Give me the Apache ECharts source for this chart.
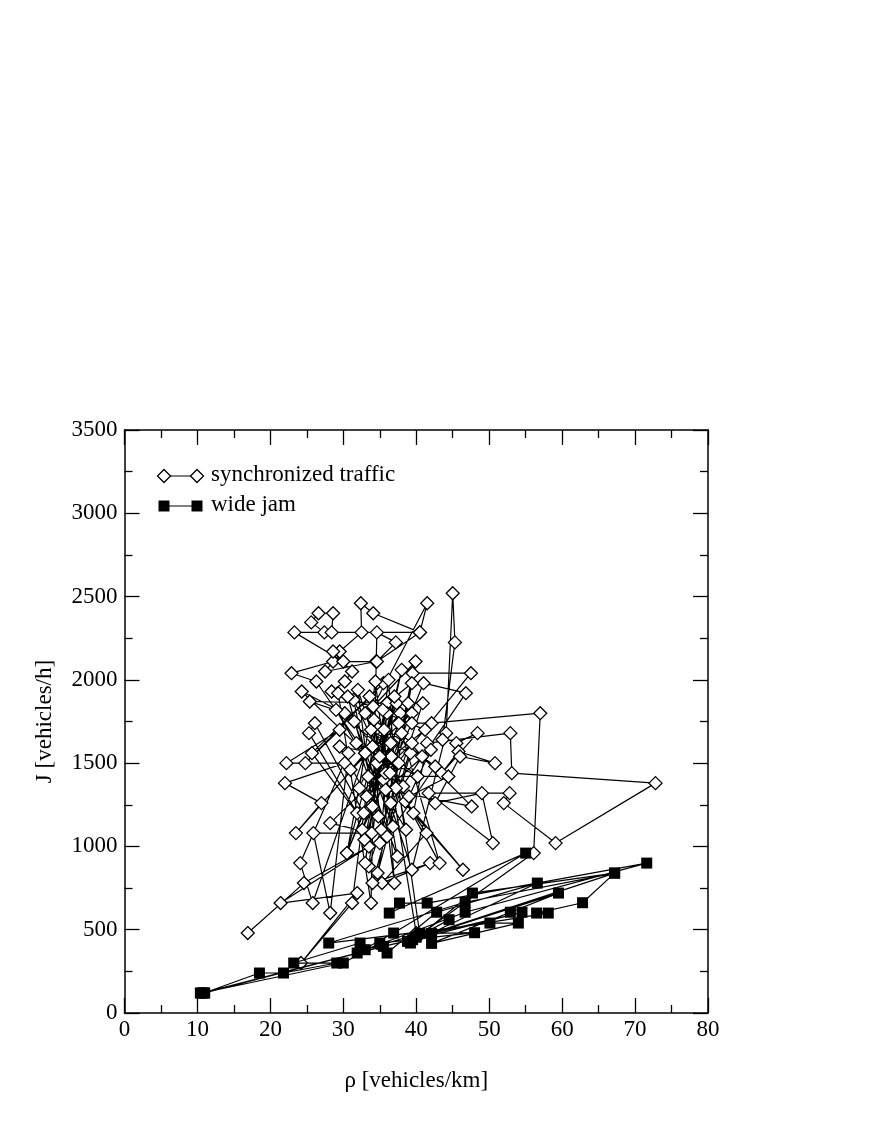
<!DOCTYPE html>
<html>
<head>
<meta charset="utf-8">
<script src="https://cdn.jsdelivr.net/npm/echarts@6/dist/echarts.min.js"></script>
<style>
html,body{margin:0;padding:0;background:#fff;}
#chart{width:879px;height:1138px;}
</style>
</head>
<body>
<div id="chart"></div>
<script>
// ---- data ----
const xTicks = [0,10,20,30,40,50,60,70,80];
const yTicks = [0,500,1000,1500,2000,2500,3000,3500];
const seriesNames = ["synchronized traffic","wide jam"];

const syncRho = [16.9,24.6,33.5,21.4,31.9,24.2,31.2,34.0,23.5,27.0,22.0,30.2,22.2,29.5,24.8,35.5,25.7,31.9,25.3,26.1,
32.8,30.5,36.0,25.4,30.2,24.3,33.0,26.3,22.9,28.6,27.5,34.5,30.0,23.3,27.4,25.6,26.6,28.6,28.4,40.5,34.1,
32.4,32.5,29.5,28.6,31.2,30.2,28.4,29.3,33.8,34.6,37.2,34.6,40.5,41.5,34.1,39.9,35.0,39.5,47.5,35.5,
41.0,46.8,36.5,39.4,36.0,37.3,33.2,38.9,40.9,33.5,36.0,37.8,31.0,39.4,37.6,32.6,39.4,42.1,57.0,56.1,
40.5,36.7,39.2,34.7,37.6,34.6,39.4,44.1,45.0,45.3,43.6,45.5,48.4,43.5,45.8,50.8,46.0,42.6,49.0,50.5,
41.7,52.8,52.0,59.1,72.8,53.1,52.9,41.5,39.6,46.4,38.5,41.4,35.3,41.9,34.0,39.4,28.2,33.9,25.9,28.2,
30.7,24.1,25.8,33.0,30.5,36.5,33.8,35.2,37.0,34.0,32.0,35.8,33.0,38.2,31.5,36.8,34.4,32.2,35.6,33.0,
36.2,37.2,31.4,34.8,29.5,36.6,32.9,38.0,35.0,33.6,37.4,31.8,40.2,29.0,38.6,35.4,37.0,34.2,42.6,36.0,
30.6,41.2,33.4,44.4,39.0,42.0,35.8,47.6,40.8,38.0,43.2,36.4,40.0];
const syncFlow = [480,780,1000,660,720,300,660,1600,1080,1260,1380,1500,1500,1700,1500,1980,1560,1200,1680,1740,
1200,960,1860,1870,1800,1930,1560,1990,2040,2110,2050,2110,2110,2285,2285,2345,2400,2400,2285,2285,2400,
2460,2285,2170,2170,2050,1990,1930,1920,660,2285,2225,2110,2285,2460,1840,2110,1020,2040,2040,1400,
1980,1920,1260,1980,1860,1860,1300,1860,1860,880,1800,1800,1460,1800,1740,1100,1740,1740,1800,960,
470,1620,1560,840,1500,1500,860,1680,2520,2225,1640,1620,1680,1440,1570,1500,1540,1260,1320,1020,
1320,1320,1260,1020,1380,1440,1680,1620,1200,860,1270,1080,780,900,780,1620,1140,1080,1080,600,
1560,900,660,1560,960,1620,1700,1100,1900,1240,1940,1440,1800,1360,1750,1120,1990,1350,1700,900,
2000,1350,1880,1180,1600,1540,1040,2060,1540,1900,940,1620,1420,1820,1100,1820,780,1760,1480,1060,
1900,1700,1420,1420,1300,1580,1340,1240,1540,1680,900,1440,480];

const jamRho = [10.4,10.9,18.5,21.8,29.1,23.2,32.3,36.0,42.8,56.6,39.2,47.7,67.2,42.1,48.0,35.0,30.0,10.6,31.9,36.9,
55.0,36.3,37.7,41.5,71.6,46.7,33.0,40.5,58.1,56.5,62.8,67.2,46.7,28.0,50.1,54.0,42.1,52.9,59.5,38.8,
54.5,40.0,44.5,39.5,35.5,11.0];
const jamFlow = [120,120,240,240,300,300,420,360,605,780,420,720,840,478,482,420,300,120,360,480,
960,600,660,660,900,605,380,478,600,600,662,840,665,420,540,540,418,605,720,430,
605,455,560,440,400,120];

const pairs = (xs, ys) => xs.map((x, i) => [x, ys[i]]);

const chart = echarts.init(document.getElementById('chart'), null, {renderer:'canvas'});
const FONT = 'Liberation Serif';
const FS = 23;
const axisCommon = {
  min: 0,
  axisLine: {show:true, onZero:false, lineStyle:{color:'#000', width:1.5}},
  axisTick: {show:true, inside:true, length:15, lineStyle:{color:'#000', width:1.3}},
  minorTick: {show:true, splitNumber:2, length:8, lineStyle:{color:'#000', width:1.3}},
  splitLine: {show:false},
  minorSplitLine: {show:false}
};

const option = {
  animation: false,
  backgroundColor: '#fff',
  grid: {left:124.5, right:171, top:430, bottom:125, containLabel:false},
  xAxis: [
    Object.assign({}, axisCommon, {
      type:'value', position:'bottom', max:80, interval:10,
      name:'ρ [vehicles/km]', nameLocation:'middle', nameGap:56,
      nameTextStyle:{fontFamily:FONT, fontSize:FS, color:'#000'},
      axisLabel:{show:true, margin:5, fontFamily:FONT, fontSize:FS, color:'#000',
        formatter: v => xTicks.includes(v) ? String(v) : ''}
    }),
    Object.assign({}, axisCommon, {
      type:'value', position:'top', max:80, interval:10,
      axisLabel:{show:false}
    })
  ],
  yAxis: [
    Object.assign({}, axisCommon, {
      type:'value', position:'left', max:3500, interval:500,
      name:'J [vehicles/h]', nameLocation:'middle', nameGap:68, nameRotate:90,
      nameTextStyle:{fontFamily:FONT, fontSize:FS, color:'#000'},
      axisLabel:{show:true, margin:7, fontFamily:FONT, fontSize:FS, color:'#000',
        formatter: v => yTicks.includes(v) ? String(v) : ''}
    }),
    Object.assign({}, axisCommon, {
      type:'value', position:'right', max:3500, interval:500,
      axisLabel:{show:false}
    })
  ],
  series: [
    {
      name: seriesNames[0], type:'line', xAxisIndex:0, yAxisIndex:0,
      data: pairs(syncRho, syncFlow),
      symbol:'diamond', symbolSize:13, showAllSymbol:true, clip:false,
      lineStyle:{color:'#000', width:1.2},
      itemStyle:{color:'#fff', borderColor:'#000', borderWidth:1.3},
      emphasis:{disabled:true}, z:2
    },
    {
      name: seriesNames[1], type:'line', xAxisIndex:0, yAxisIndex:0,
      data: pairs(jamRho, jamFlow),
      symbol:'rect', symbolSize:11, showAllSymbol:true, clip:false,
      lineStyle:{color:'#000', width:1.2},
      itemStyle:{color:'#000', borderColor:'#000', borderWidth:0},
      emphasis:{disabled:true}, z:3
    }
  ],
  graphic: [
    {type:'line', shape:{x1:164, y1:476, x2:197, y2:476}, style:{stroke:'#000', lineWidth:1.2}, z:10},
    {type:'polygon', shape:{points:[[164,469.5],[170.5,476],[164,482.5],[157.5,476]]}, style:{fill:'#fff', stroke:'#000', lineWidth:1.3}, z:11},
    {type:'polygon', shape:{points:[[197,469.5],[203.5,476],[197,482.5],[190.5,476]]}, style:{fill:'#fff', stroke:'#000', lineWidth:1.3}, z:11},
    {type:'text', left:211, top:463, style:{text:seriesNames[0], font:FS + 'px "Liberation Serif"', fill:'#000'}, z:11},
    {type:'line', shape:{x1:164, y1:506, x2:197, y2:506}, style:{stroke:'#000', lineWidth:1.2}, z:10},
    {type:'rect', shape:{x:158.5, y:500.5, width:11, height:11}, style:{fill:'#000'}, z:11},
    {type:'rect', shape:{x:191.5, y:500.5, width:11, height:11}, style:{fill:'#000'}, z:11},
    {type:'text', left:211, top:493, style:{text:seriesNames[1], font:FS + 'px "Liberation Serif"', fill:'#000'}, z:11}
  ]
};
chart.setOption(option);
</script>
</body>
</html>
